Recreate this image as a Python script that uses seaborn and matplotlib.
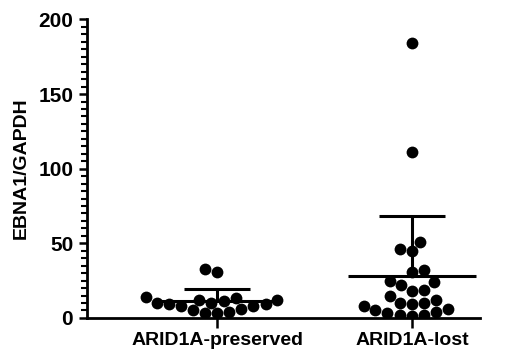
import numpy as np
import pandas as pd
import matplotlib
matplotlib.use("Agg")
import matplotlib.pyplot as plt
from matplotlib.ticker import MultipleLocator
import seaborn as sns

# values
groups = ["ARID1A-preserved", "ARID1A-lost"]
preserved = [33, 31, 14, 13, 12, 12, 11, 10, 10, 9, 9, 8, 8, 6, 5, 4, 3, 3]
lost = [184, 111, 51, 46, 45, 32, 31, 25, 24, 22, 19, 18, 15, 12, 10, 10,
        9, 8, 6, 5, 4, 3, 2, 2, 1]
y_ticks = [0, 50, 100, 150, 200]

df = pd.DataFrame({
    "group": [groups[0]] * len(preserved) + [groups[1]] * len(lost),
    "value": preserved + lost,
})

sns.set_style("ticks", {"axes.edgecolor": "black", "text.color": "black",
                        "xtick.color": "black", "ytick.color": "black",
                        "axes.labelcolor": "black"})
plt.rcParams["font.family"] = ["Liberation Sans", "DejaVu Sans"]
plt.rcParams["font.weight"] = "bold"

fig = plt.figure(figsize=(5.31, 3.54), dpi=100)
ax = fig.add_axes([0.164, 0.102, 0.740, 0.843])

sns.swarmplot(data=df, x="group", y="value", order=groups, color="black",
              size=8.5, ax=ax, zorder=3)

# mean +/- SD lines
for i, vals in enumerate([preserved, lost]):
    m = np.mean(vals)
    sd = np.std(vals, ddof=1)
    ax.hlines(m, i - 0.33, i + 0.33, color="black", lw=2.2, zorder=4)
    ax.vlines(i, m, m + sd, color="black", lw=2.2, zorder=4)
    ax.hlines(m + sd, i - 0.17, i + 0.17, color="black", lw=2.2, zorder=4)

ax.set_xlim(-0.667, 1.35)
ax.set_ylim(0, 200)
ax.set_yticks(y_ticks)
ax.yaxis.set_minor_locator(MultipleLocator(5))
ax.set_xlabel("")
ax.set_ylabel("EBNA1/GAPDH", fontsize=14, fontweight="bold", labelpad=6,
              color="black")
ax.tick_params(axis="y", labelsize=15, width=1.8, length=6, pad=4,
               colors="black")
ax.tick_params(axis="y", which="minor", width=1.5, length=4, colors="black")
ax.tick_params(axis="x", labelsize=14, width=1.8, length=7, pad=3,
               colors="black")
for lab in ax.get_xticklabels() + ax.get_yticklabels():
    lab.set_fontweight("bold")
for s in ["left", "bottom"]:
    ax.spines[s].set_linewidth(2)
    ax.spines[s].set_color("black")
sns.despine(ax=ax)

fig.savefig("out.png", dpi=100)
